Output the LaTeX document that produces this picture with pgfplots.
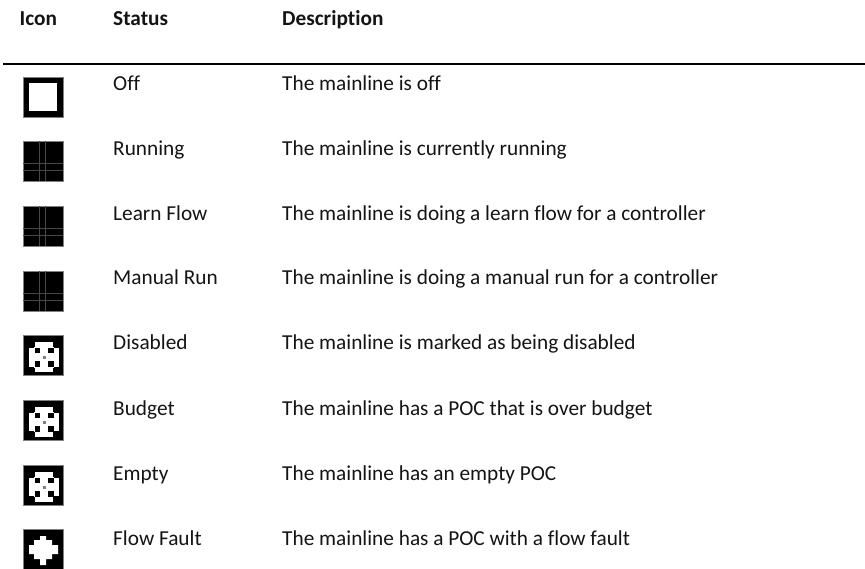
\documentclass[border=0pt]{standalone}
\usepackage{pgfplots}
\pgfplotsset{compat=1.18}
\usepackage{pgfplotstable}
\usepackage{fontspec}
\setmainfont[Ligatures=NoCommon]{Carlito}
\definecolor{txt}{gray}{0.08}
\definecolor{gl}{gray}{0.28}
\pgfplotstableread{
0 0
1 0
1 1
0 1
}\unitsq
\pgfplotstableread{
17 7
23 7
23 11
29 11
29 16
35 16
35 25
29 25
29 30
23 30
23 36
17 36
17 30
11 30
11 25
6 25
6 16
11 16
11 11
17 11
}\plusshape
% R{x0}{y0}{x1}{y1}{top of icon}{colour}
\newcommand{\R}[6]{\addplot[fill=#6,draw=none,forget plot] table[x expr={\thisrowno{0}*(#3-#1)+#1+23},y expr={\thisrowno{1}*(#4-#2)+#2+#5}] {\unitsq} -- cycle;}
\newcommand{\IconBox}[1]{\addplot[fill=black,draw=gray,line width=0.6pt,forget plot] table[x expr={\thisrowno{0}*40+23},y expr={\thisrowno{1}*40+#1}] {\unitsq} -- cycle;}
\newcommand{\Grid}[1]{\R{16}{0}{17}{40}{#1}{gl}\R{22}{0}{23}{40}{#1}{gl}\R{0}{22}{40}{23}{#1}{gl}\R{0}{29}{40}{30}{#1}{gl}}
\newcommand{\Maltese}[1]{\IconBox{#1}
 \R{12}{7}{30}{12}{#1}{white}\R{12}{31.5}{30}{36.5}{#1}{white}
 \R{6}{13}{11}{31}{#1}{white}\R{31}{13}{36}{31}{#1}{white}
 \R{11}{12}{31}{32}{#1}{white}
 \R{11.5}{12.5}{17}{18}{#1}{black}\R{25}{12.5}{30.5}{18}{#1}{black}
 \R{11.5}{26}{17}{31.5}{#1}{black}\R{25}{26}{30.5}{31.5}{#1}{black}
 \R{19.5}{20.5}{22.5}{23.5}{#1}{gray}}
\newcommand{\Row}[3]{\node[anchor=base west,inner sep=0pt,text=txt] at (axis cs:113,#1) {\fontsize{21.3}{24}\selectfont #2};
 \node[anchor=base west,inner sep=0pt,text=txt] at (axis cs:282,#1) {\fontsize{21.3}{24}\selectfont #3};}
\begin{document}
\begin{tikzpicture}
\begin{axis}[
  hide axis,scale only axis,width=865pt,height=569pt,
  xmin=0,xmax=865,ymin=0,ymax=569,y dir=reverse,
  clip=true]
% rule
\addplot[fill=black,draw=none,forget plot] coordinates {(3,62.6)(865,62.6)(865,64.6)(3,64.6)} -- cycle;
% Off
\IconBox{77}\R{6}{6}{34}{34}{77}{white}
% Running, Learn Flow, Manual Run
\IconBox{141.5}\Grid{141.5}
\IconBox{206}\Grid{206}
\IconBox{271}\Grid{271}
% Disabled, Budget, Empty
\Maltese{335.5}
\Maltese{400}
\Maltese{465}
% Flow Fault
\IconBox{529}
\addplot[fill=white,draw=none,forget plot] table[x expr={\thisrowno{0}+23},y expr={\thisrowno{1}+529}] {\plusshape} -- cycle;
% text
\node[anchor=base west,inner sep=0pt,text=txt] at (axis cs:19.5,26) {\fontsize{21.3}{24}\selectfont\bfseries Icon};
\node[anchor=base west,inner sep=0pt,text=txt] at (axis cs:113,26) {\fontsize{21.3}{24}\selectfont\bfseries Status};
\node[anchor=base west,inner sep=0pt,text=txt] at (axis cs:282,26) {\fontsize{21.3}{24}\selectfont\bfseries Description};
\Row{90.5}{Off}{The mainline is off}
\Row{155.5}{Running}{The mainline is currently running}
\Row{220.4}{Learn Flow}{The mainline is doing a learn flow for a controller}
\Row{285}{Manual Run}{The mainline is doing a manual run for a controller}
\Row{350}{Disabled}{The mainline is marked as being disabled}
\Row{415}{Budget}{The mainline has a POC that is over budget}
\Row{480}{Empty}{The mainline has an empty POC}
\Row{545}{Flow Fault}{The mainline has a POC with a flow fault}
\end{axis}
\path (current axis.south west) rectangle (current axis.north east);
\end{tikzpicture}
\end{document}
